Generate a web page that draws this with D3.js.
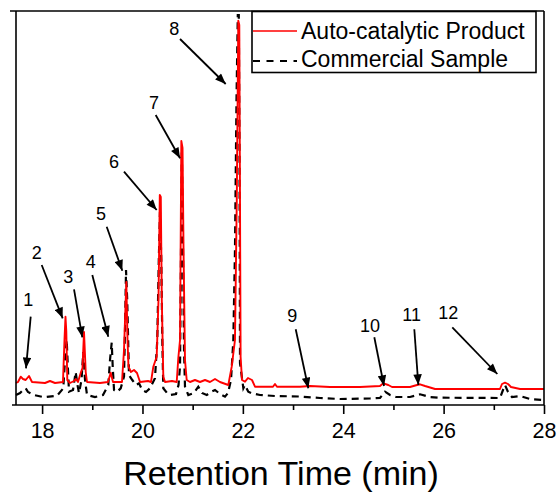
<!DOCTYPE html>
<html>
<head>
<meta charset="utf-8">
<script src="https://cdn.jsdelivr.net/npm/d3@7"></script>
<style>
  html, body { margin: 0; padding: 0; background: #fff; }
  svg { display: block; }
  text { font-family: "Liberation Sans", Arial, sans-serif; fill: #000; }
</style>
</head>
<body>
<svg id="chart" width="557" height="492"></svg>
<script>
// ---------- DATA (retention time in min, detector intensity in arbitrary units) ----------
const productTrace = [
  [17.48,22],[17.52,23],[17.574,28.3],[17.62,26],[17.673,25],[17.739,29],[17.799,23],
  [18.058,22],[18.157,24],[18.257,22],[18.416,23],[18.446,65],[18.466,88.3],[18.482,74],
  [18.502,25],[18.556,22],[18.636,24],[18.675,26],[18.715,23],[18.775,33],[18.805,37],
  [18.835,73],[18.869,33],[18.895,23],[19.154,22],[19.313,23],[19.367,32.3],[19.413,23],
  [19.592,23],[19.632,55],[19.678,123],[19.702,65],[19.721,38.3],[19.771,33],[19.831,35],
  [19.891,32],[19.951,23],[20.11,24],[20.17,23],[20.216,38.3],[20.283,48.3],[20.319,105],
  [20.345,210],[20.365,208],[20.385,105],[20.415,28.3],[20.449,23],[20.588,24],[20.682,23],
  [20.714,47],[20.748,65],[20.764,185],[20.774,264],[20.798,257],[20.818,155],[20.847,45],
  [20.881,25],[20.947,23],[21.046,25],[21.146,23],[21.246,25],[21.345,23],[21.445,26],
  [21.544,23],[21.71,20],[21.778,38.3],[21.843,65],[21.879,205],[21.909,384.3],[21.929,380],
  [21.943,205],[21.955,48.3],[21.983,25],[22.043,23.3],[22.102,27],[22.182,25],[22.242,18.3],
  [22.6,18.3],[22.64,21],[22.68,18.3],[23.138,18.3],[23.338,19],[23.736,18],[24.334,18],
  [24.732,19],[24.798,21.7],[24.898,20],[24.972,18],[25.33,18],[25.47,20],[25.53,20.7],
  [25.63,19],[25.83,16],[27.123,16],[27.163,21],[27.223,22.3],[27.283,21],[27.342,18],
  [27.522,16],[28.0,16]
];
const commercialTrace = [
  [17.48,10],[17.56,12],[17.62,15],[17.673,16.7],[17.719,13],[17.839,10],[18.038,7.7],
  [18.297,9.3],[18.422,16.7],[18.456,45],[18.49,65],[18.516,35],[18.536,13.3],[18.616,15],
  [18.669,33],[18.705,20],[18.735,12],[18.785,25],[18.821,53],[18.855,25],[18.895,10],
  [19.054,8],[19.213,10],[19.319,20],[19.353,45],[19.387,62.3],[19.407,38.3],[19.433,15],
  [19.492,13],[19.566,16.7],[19.632,28.3],[19.652,75],[19.672,135],[19.696,105],[19.731,30],
  [19.797,25],[19.871,20],[19.931,21.7],[19.996,15],[20.07,13],[20.15,16.7],[20.249,26.7],
  [20.295,65],[20.325,145],[20.349,193],[20.375,145],[20.395,65],[20.415,16.7],[20.489,12],
  [20.548,10],[20.668,11],[20.718,20],[20.748,38.3],[20.768,155],[20.784,255],[20.808,155],
  [20.828,55],[20.847,18.3],[20.913,10],[21.026,12],[21.112,18.3],[21.186,12],[21.28,10],
  [21.365,13],[21.445,15],[21.545,11],[21.644,8.3],[21.704,12],[21.764,25],[21.81,65],
  [21.843,155],[21.873,305],[21.899,390],[21.919,390],[21.933,255],[21.943,41.7],[22.01,16.7],
  [22.043,20],[22.108,13.3],[22.176,11.7],[22.341,10],[22.64,9],[23.138,8.5],[23.537,7],
  [23.935,6],[24.533,6.5],[24.732,7],[24.832,13.3],[24.932,10],[25.051,8],[25.33,8],
  [25.53,10.7],[25.729,8],[25.928,7.3],[27.123,7],[27.183,15],[27.223,20],[27.283,13],
  [27.362,8],[27.522,9],[27.721,6],[28.0,5]
];
const seriesNames = ["Auto-catalytic Product", "Commercial Sample"];
const xTicksMajor = [18, 20, 22, 24, 26, 28];
const xTicksMinor = [19, 21, 23, 25, 27];
const xTitle = "Retention Time (min)";
// peak annotations: label, label position, arrow start, arrow end (time, intensity)
const peakLabels = ["1","2","3","4","5","6","7","8","9","10","11","12"];
const labelPos = [[17.725,105],[17.892,151.7],[18.522,128.3],[18.968,143.3],[19.174,191],[19.433,243.3],
                  [20.23,302.3],[20.634,375.7],[22.985,89.3],[24.533,79.3],[25.364,90],[26.093,91.7]];
const arrowFrom = [[17.773,88.3],[17.992,140],[18.636,115.7],[19.0,130],[19.287,178.3],[19.632,233.3],
                   [20.263,290],[20.748,366],[23.053,75.7],[24.619,67.7],[25.416,75.7],[26.173,77.7]];
const arrowTo   = [[17.679,36.7],[18.41,86.7],[18.801,67.7],[19.319,68.3],[19.598,134.3],[20.283,195],
                   [20.748,246.7],[21.658,321],[23.304,16.7],[24.812,19],[25.496,20],[27.07,31]];

// ---------- LAYOUT ----------
const svg = d3.select("#chart");
const plot = { left: 16, right: 544, top: 11, bottom: 405 };
const x = d3.scaleLinear().domain([17.48, 28]).range([plot.left, plot.right]);
const y = d3.scaleLinear().domain([0, 394]).range([plot.bottom, plot.top]);

const defs = svg.append("defs");
defs.append("marker")
  .attr("id", "arrowhead").attr("viewBox", "0 0 10 8")
  .attr("refX", 10).attr("refY", 4)
  .attr("markerUnits", "userSpaceOnUse")
  .attr("markerWidth", 12).attr("markerHeight", 8.5)
  .attr("orient", "auto")
  .append("path").attr("d", "M0,0 L10,4 L0,8 Z").attr("fill", "#000");

// series
const line = d3.line().x(d => x(d[0])).y(d => y(d[1]));
svg.append("path").datum(commercialTrace)
  .attr("d", line).attr("fill", "none")
  .attr("stroke", "#000").attr("stroke-width", 2.2)
  .attr("stroke-dasharray", "7,5");
svg.append("path").datum(productTrace)
  .attr("d", line).attr("fill", "none")
  .attr("stroke", "#ff0000").attr("stroke-width", 1.9)
  .attr("stroke-linejoin", "round");

// frame
svg.append("line").attr("x1", 10).attr("x2", plot.right).attr("y1", plot.top).attr("y2", plot.top)
  .attr("stroke", "#000").attr("stroke-width", 1.6);
svg.append("line").attr("x1", plot.left).attr("x2", plot.left).attr("y1", plot.top).attr("y2", plot.bottom)
  .attr("stroke", "#000").attr("stroke-width", 1.6);
svg.append("line").attr("x1", plot.right).attr("x2", plot.right).attr("y1", plot.top).attr("y2", plot.bottom)
  .attr("stroke", "#000").attr("stroke-width", 1.6);

// x axis
const xAxis = svg.append("g").attr("transform", `translate(0,${plot.bottom})`)
  .call(d3.axisBottom(x).tickValues(xTicksMajor).tickFormat(d3.format("d"))
        .tickSize(9).tickSizeOuter(0).tickPadding(9));
xAxis.select(".domain").remove();
xAxis.selectAll(".tick line").attr("stroke-width", 1.6);
xAxis.selectAll("text").style("font-size", "21.5px").style("font-family", "'Liberation Sans', Arial, sans-serif");
svg.append("g").attr("transform", `translate(0,${plot.bottom})`)
  .call(d3.axisBottom(x).tickValues(xTicksMinor).tickFormat("").tickSize(5).tickSizeOuter(0))
  .call(g => g.select(".domain").remove())
  .selectAll(".tick line").attr("stroke-width", 1.6);
svg.append("line").attr("x1", 12).attr("x2", plot.right).attr("y1", plot.bottom).attr("y2", plot.bottom)
  .attr("stroke", "#000").attr("stroke-width", 1.6);

svg.append("text").attr("x", 281).attr("y", 485).attr("text-anchor", "middle")
  .style("font-size", "34px").text(xTitle);

// annotations
const ann = svg.append("g");
peakLabels.forEach((lab, i) => {
  ann.append("line")
    .attr("x1", x(arrowFrom[i][0])).attr("y1", y(arrowFrom[i][1]))
    .attr("x2", x(arrowTo[i][0])).attr("y2", y(arrowTo[i][1]))
    .attr("stroke", "#000").attr("stroke-width", 1.8)
    .attr("marker-end", "url(#arrowhead)");
  ann.append("text")
    .attr("x", x(labelPos[i][0])).attr("y", y(labelPos[i][1]))
    .attr("text-anchor", "middle").attr("dominant-baseline", "central")
    .style("font-size", "18px").text(lab);
});

// legend
const lg = svg.append("g");
lg.append("rect").attr("x", 252).attr("y", 11.5).attr("width", 284).attr("height", 61)
  .attr("fill", "#fff").attr("stroke", "#000").attr("stroke-width", 1.6);
lg.append("line").attr("x1", 253).attr("x2", 297).attr("y1", 31).attr("y2", 31)
  .attr("stroke", "#ff0000").attr("stroke-width", 1.4);
lg.append("line").attr("x1", 253).attr("x2", 297).attr("y1", 61).attr("y2", 61)
  .attr("stroke", "#000").attr("stroke-width", 2).attr("stroke-dasharray", "7,6.5");
lg.append("text").attr("x", 301).attr("y", 39).style("font-size", "23px").text(seriesNames[0]);
lg.append("text").attr("x", 301).attr("y", 67).style("font-size", "23px").text(seriesNames[1]);
</script>
</body>
</html>
